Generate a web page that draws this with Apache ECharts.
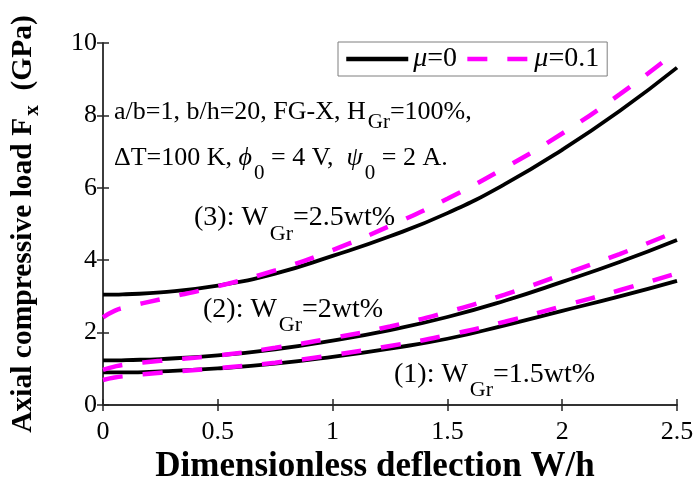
<!DOCTYPE html>
<html>
<head>
<meta charset="utf-8">
<script src="https://cdn.jsdelivr.net/npm/echarts@6/dist/echarts.min.js"></script>
<style>
  html, body { margin: 0; padding: 0; background: #fff; }
  #chart { width: 694px; height: 481px; }
</style>
</head>
<body>
<div id="chart"></div>
<script>
// W/h values shared by every curve
var deflection = [0, 0.05, 0.1, 0.25, 0.5, 0.75, 1, 1.25, 1.5, 1.75, 2, 2.25, 2.5];

// (3) W_Gr = 2.5wt%
var gr25Mu0 = [3.05, 3.05, 3.06, 3.11, 3.3, 3.63, 4.12, 4.66, 5.3, 6.1, 7.05, 8.12, 9.32];
var gr25Mu01 = [2.42, 2.6, 2.7, 2.92, 3.28, 3.72, 4.28, 4.95, 5.7, 6.55, 7.5, 8.58, 9.78];
// (2) W_Gr = 2wt%
var gr2Mu0 = [1.23, 1.23, 1.24, 1.27, 1.37, 1.54, 1.78, 2.07, 2.43, 2.88, 3.4, 3.95, 4.56];
var gr2Mu01 = [0.97, 1.06, 1.12, 1.22, 1.37, 1.58, 1.85, 2.17, 2.57, 3.05, 3.6, 4.17, 4.8];
// (1) W_Gr = 1.5wt%
var gr15Mu0 = [0.9, 0.9, 0.9, 0.93, 1.01, 1.14, 1.33, 1.56, 1.83, 2.2, 2.6, 3.0, 3.43];
var gr15Mu01 = [0.69, 0.76, 0.8, 0.89, 1.02, 1.17, 1.38, 1.63, 1.93, 2.3, 2.73, 3.17, 3.64];

var legendNames = ["μ=0", "μ=0.1"];

var FONT = "Liberation Serif";
var AXIS_COLOR = "#262626";

function pairs(ys) {
  return deflection.map(function (x, i) {
    return [x, ys[i]];
  });
}

function solid(ys) {
  return {
    name: legendNames[0],
    type: "line",
    data: pairs(ys),
    smooth: true,
    symbol: "none",
    lineStyle: { color: "#000", width: 3.8 },
    itemStyle: { color: "#000" },
    z: 2,
  };
}

function dashed(ys) {
  return {
    name: legendNames[1],
    type: "line",
    data: pairs(ys),
    smooth: true,
    symbol: "none",
    lineStyle: { color: "#ff00ff", width: 4.5, type: [20, 20] },
    itemStyle: { color: "#ff00ff" },
    z: 3,
  };
}

// rich styles for the in-plot notes; subscripts pushed down with top padding
function richFor(size, subSize, drop) {
  return {
    t: { fontFamily: FONT, fontSize: size, color: "#000" },
    i: { fontFamily: FONT, fontSize: size, fontStyle: "italic", color: "#000" },
    s: { fontFamily: FONT, fontSize: subSize, color: "#000", padding: [drop, 0, 0, 2] },
  };
}

function note(left, top, text, rich) {
  return {
    type: "text",
    left: left,
    top: top,
    z: 10,
    style: {
      text: text,
      fontFamily: FONT,
      fontSize: 26,
      fill: "#000",
      rich: rich,
    },
  };
}

var chart = echarts.init(document.getElementById("chart"), null, { renderer: "canvas" });

var option = {
  animation: false,
  backgroundColor: "#fff",
  grid: { left: 103, right: 17, top: 43, bottom: 76, outerBoundsMode: "none" },
  legend: {
    data: legendNames,
    left: 338,
    top: 42,
    padding: [3, 8, 3, 6],
    itemGap: 8,
    itemWidth: 62,
    itemHeight: 10,
    itemStyle: { opacity: 0 },
    lineStyle: { width: 4.5 },
    borderColor: "#7f7f7f",
    borderWidth: 1,
    backgroundColor: "#fff",
    formatter: function (name) {
      return "{i|μ}=" + name.split("=")[1];
    },
    textStyle: {
      fontFamily: FONT,
      fontSize: 28,
      color: "#000",
      rich: { i: { fontFamily: FONT, fontSize: 28, fontStyle: "italic", color: "#000" } },
    },
  },
  xAxis: [
    {
      type: "value",
      min: 0,
      max: 2.5,
      interval: 0.5,
      name: "{t|Dimensionless deflection W/h}",
      nameLocation: "middle",
      nameGap: 43,
      nameTextStyle: {
        padding: [0, 30, 0, 0],
        rich: { t: { fontFamily: FONT, fontSize: 35, fontWeight: "bold", color: "#000" } },
      },
      axisLine: { lineStyle: { color: AXIS_COLOR, width: 1.5 } },
      axisTick: { inside: true, length: 6, lineStyle: { color: AXIS_COLOR, width: 1.5 } },
      axisLabel: { fontFamily: FONT, fontSize: 26, color: "#000", margin: 14 },
      splitLine: { show: false },
    },
    {
      type: "value",
      position: "top",
      min: 0,
      max: 2.5,
      interval: 0.5,
      axisLine: { show: true, lineStyle: { color: AXIS_COLOR, width: 1.5 } },
      axisTick: { inside: true, length: 6, lineStyle: { color: AXIS_COLOR, width: 1.5 } },
      axisLabel: { show: false },
      splitLine: { show: false },
    },
  ],
  yAxis: [
    {
      type: "value",
      min: 0,
      max: 10,
      interval: 2,
      name: "{t|Axial compressive load F}{s|x}{t|  (GPa)}",
      nameLocation: "middle",
      nameGap: 60,
      nameTextStyle: {
        rich: {
          t: { fontFamily: FONT, fontSize: 29.5, fontWeight: "bold", color: "#000" },
          s: { fontFamily: FONT, fontSize: 21, fontWeight: "bold", color: "#000", padding: [18, 0, 0, 2] },
        },
      },
      axisLine: { show: true, lineStyle: { color: "#555", width: 1.5 } },
      axisTick: { inside: true, length: 6, lineStyle: { color: AXIS_COLOR, width: 1.5 } },
      axisLabel: { fontFamily: FONT, fontSize: 26, color: "#000", margin: 6 },
      splitLine: { show: false },
    },
    {
      type: "value",
      position: "right",
      min: 0,
      max: 10,
      interval: 2,
      axisLine: { show: true, lineStyle: { color: AXIS_COLOR, width: 1.5 } },
      axisTick: { inside: true, length: 6, lineStyle: { color: AXIS_COLOR, width: 1.5 } },
      axisLabel: { show: false },
      splitLine: { show: false },
    },
  ],
  graphic: [
    note(114, 99, "{t|a/b=1, b/h=20, FG-X, H}{s|Gr}{t|=100%,}", richFor(26, 21, 20)),
    note(114, 145, "{t|ΔT=100 K, }{i|ϕ}{s|0}{t| = 4 V,  }{i|ψ}{s|0}{t| = 2 A.}", richFor(26, 21, 30)),
    note(194, 204, "{t|(3): W}{s|Gr}{t|=2.5wt%}", richFor(28, 22, 32)),
    note(203, 296, "{t|(2): W}{s|Gr}{t|=2wt%}", richFor(28, 22, 30)),
    note(394, 361, "{t|(1): W}{s|Gr}{t|=1.5wt%}", richFor(28, 22, 30)),
  ],
  series: [
    solid(gr25Mu0),
    dashed(gr25Mu01),
    solid(gr2Mu0),
    dashed(gr2Mu01),
    solid(gr15Mu0),
    dashed(gr15Mu01),
  ],
};

chart.setOption(option);
</script>
</body>
</html>
